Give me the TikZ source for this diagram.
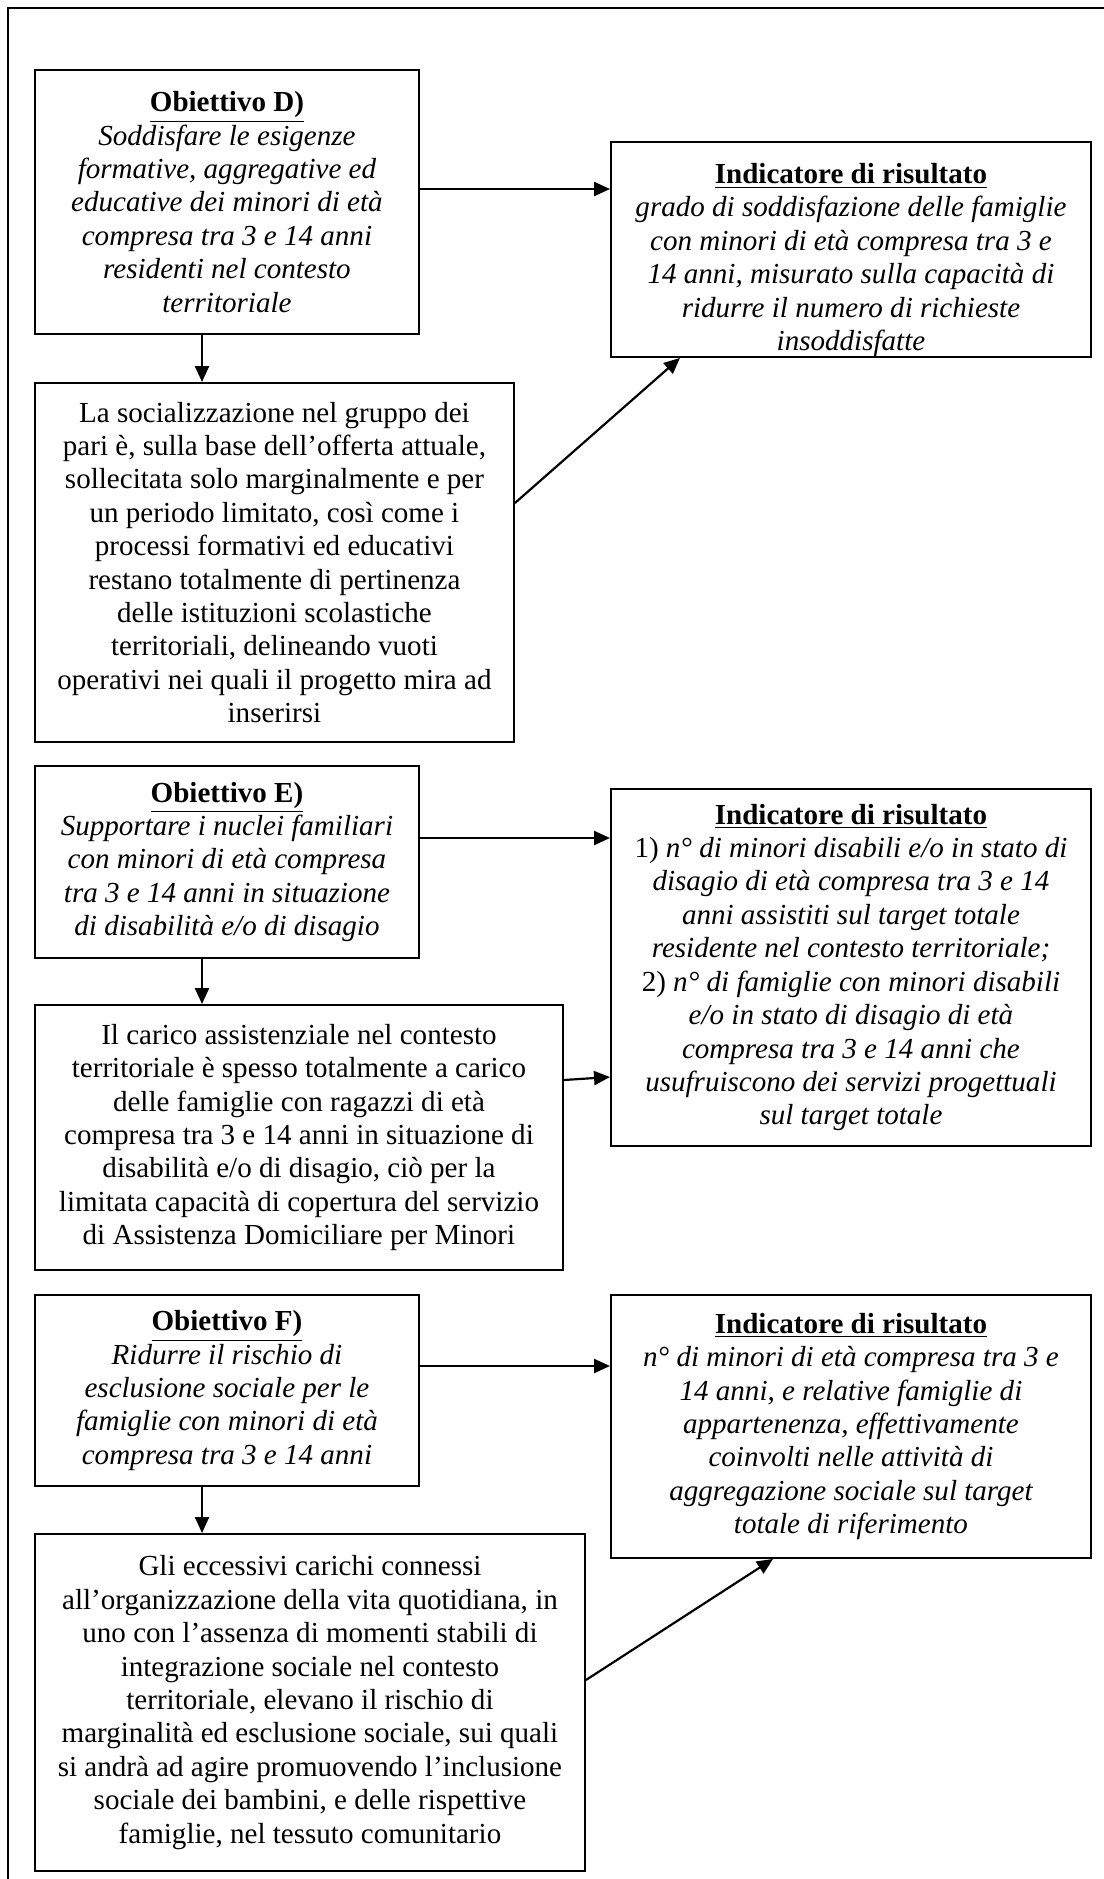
\documentclass[tikz,border=0pt]{standalone}
\usepackage{fontspec}
\setmainfont{Liberation Serif}
\usetikzlibrary{arrows.meta}
\newcommand{\pxu}{0.413pt}
\newcommand{\ttl}[1]{\textup{\underline{\textbf{#1}}}}

\begin{document}
\begin{tikzpicture}[x=0.413pt,y=-0.413pt,
    box/.style={draw,line width=0.8pt,anchor=north west,align=center,inner sep=2pt,
      font=\fontsize{12}{13.8}\selectfont},
    itbox/.style={box,font=\fontsize{12}{13.8}\selectfont\itshape},
    arr/.style={-{Triangle[length=6.6pt,width=5.8pt]},line width=0.9pt}]
    \useasboundingbox (0,0) rectangle (1104,1879);
    \draw[line width=1.2pt] (8,1879) -- (8,8) -- (1104,8);

    \node[itbox,minimum width=384*\pxu,minimum height=264*\pxu] (objD) at (34,69)
    {\ttl{Obiettivo D)}\\ Soddisfare le esigenze\\ formative, aggregative ed\\
     educative dei minori di età\\ compresa tra 3 e 14 anni\\ residenti nel contesto\\ territoriale};
    \node[itbox,inner ysep=0pt,minimum width=480*\pxu,minimum height=215*\pxu] (indD) at (610,141)
    {\rule{0pt}{17pt}\ttl{Indicatore di risultato}\\ grado di soddisfazione delle famiglie\\
     con minori di età compresa tra 3 e\\ 14 anni, misurato sulla capacità di\\
     ridurre il numero di richieste\\ insoddisfatte};
    \node[box,minimum width=479*\pxu,minimum height=359*\pxu] (cauD) at (34,382)
    {La socializzazione nel gruppo dei\\ pari è, sulla base dell’offerta attuale,\\
     sollecitata solo marginalmente e per\\ un periodo limitato, così come i\\
     processi formativi ed educativi\\ restano totalmente di pertinenza\\
     delle istituzioni scolastiche\\ territoriali, delineando vuoti\\
     operativi nei quali il progetto mira ad\\ inserirsi};

    \draw[arr] (objD.east |- 0,189) -- (indD.west |- 0,189);
    \draw[arr] (202,0 |- objD.south) -- (202,0 |- cauD.north);
    \draw[arr] (cauD.east |- 0,503) -- (680,0 |- indD.south);

    \node[itbox,minimum width=384*\pxu,minimum height=192*\pxu] (objE) at (34,765)
    {\ttl{Obiettivo E)}\\ Supportare i nuclei familiari\\ con minori di età compresa\\
     tra 3 e 14 anni in situazione\\ di disabilità e/o di disagio};
    \node[itbox,minimum width=480*\pxu,minimum height=357*\pxu] (indE) at (610,788)
    {\ttl{Indicatore di risultato}\\ \textup{1)} n° di minori disabili e/o in stato di\\
     disagio di età compresa tra 3 e 14\\ anni assistiti sul target totale\\
     residente nel contesto territoriale;\\ \textup{2)} n° di famiglie con minori disabili\\
     e/o in stato di disagio di età\\ compresa tra 3 e 14 anni che\\
     usufruiscono dei servizi progettuali\\ sul target totale};
    \node[box,minimum width=528*\pxu,minimum height=265*\pxu] (cauE) at (34,1004)
    {Il carico assistenziale nel contesto\\ territoriale è spesso totalmente a carico\\
     delle famiglie con ragazzi di età\\ compresa tra 3 e 14 anni in situazione di\\
     disabilità e/o di disagio, ciò per la\\ limitata capacità di copertura del servizio\\
     di Assistenza Domiciliare per Minori};

    \draw[arr] (objE.east |- 0,838) -- (indE.west |- 0,838);
    \draw[arr] (202,0 |- objE.south) -- (202,0 |- cauE.north);
    \draw[arr] (cauE.east |- 0,1080) -- (indE.west |- 0,1077);

    \node[itbox,minimum width=384*\pxu,minimum height=191*\pxu] (objF) at (34,1294)
    {\ttl{Obiettivo F)}\\ Ridurre il rischio di\\ esclusione sociale per le\\
     famiglie con minori di età\\ compresa tra 3 e 14 anni};
    \node[itbox,minimum width=480*\pxu,minimum height=263*\pxu] (indF) at (610,1294)
    {\ttl{Indicatore di risultato}\\ n° di minori di età compresa tra 3 e\\
     14 anni, e relative famiglie di\\ appartenenza, effettivamente\\
     coinvolti nelle attività di\\ aggregazione sociale sul target\\ totale di riferimento};
    \node[box,minimum width=550*\pxu,minimum height=337*\pxu] (cauF) at (34,1533)
    {Gli eccessivi carichi connessi\\ all’organizzazione della vita quotidiana, in\\
     uno con l’assenza di momenti stabili di\\ integrazione sociale nel contesto\\
     territoriale, elevano il rischio di\\ marginalità ed esclusione sociale, sui quali\\
     si andrà ad agire promuovendo l’inclusione\\ sociale dei bambini, e delle rispettive\\
     famiglie, nel tessuto comunitario};

    \draw[arr] (objF.east |- 0,1366) -- (indF.west |- 0,1366);
    \draw[arr] (202,0 |- objF.south) -- (202,0 |- cauF.north);
    \draw[arr] (cauF.east |- 0,1680) -- (773,0 |- indF.south);
\end{tikzpicture}
\end{document}
